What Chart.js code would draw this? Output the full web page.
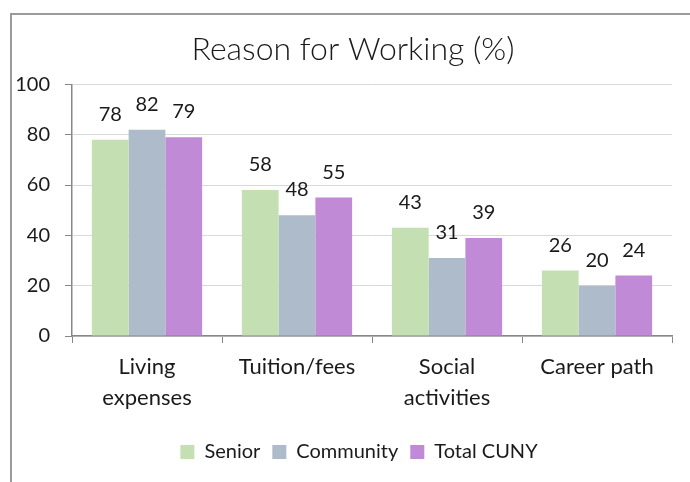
<!DOCTYPE html>
<html>
<head>
<meta charset="utf-8">
<script src="https://cdn.jsdelivr.net/npm/chart.js@4"></script>
<style>
  html, body { margin: 0; padding: 0; background: #fff; }
  #wrap { position: relative; width: 690px; height: 482px; overflow: hidden; }
  #frame { position: absolute; left: 10px; top: 13px; width: 800px; height: 600px;
           border-left: 2px solid #9a9a9a; border-top: 2px solid #9a9a9a; }
  canvas { position: absolute; left: 0; top: 0; }
</style>
</head>
<body>
<div id="wrap">
  <div id="frame"></div>
  <canvas id="chart" width="690" height="482"></canvas>
</div>
<script>
// Categories and series (percent)
const categories = [['Living', 'expenses'], 'Tuition/fees', ['Social', 'activities'], 'Career path'];
const seniorValues = [78, 58, 43, 26];
const communityValues = [82, 48, 31, 20];
const totalCunyValues = [79, 55, 39, 24];
const yTicks = [0, 20, 40, 60, 80, 100];

const textColor = '#1a1a1a';
const axisColor = '#878787';

// value labels above each bar
const barLabels = {
    id: 'barLabels',
    afterDatasetsDraw(chart) {
        const ctx = chart.ctx;
        ctx.save();
        ctx.font = '20px Lato';
        ctx.fillStyle = textColor;
        ctx.textAlign = 'center';
        ctx.textBaseline = 'alphabetic';
        chart.data.datasets.forEach((ds, i) => {
            chart.getDatasetMeta(i).data.forEach((bar, j) => {
                ctx.fillText(String(ds.data[j]), bar.x, bar.y - 19);
            });
        });
        ctx.restore();
    }
};

// nudge title and legend a little to the right, like the original
const shiftBlocks = {
    id: 'shiftBlocks',
    afterLayout(chart) {
        if (chart.titleBlock) { chart.titleBlock.left += 10; chart.titleBlock.right += 10; }
        if (chart.legend) { chart.legend.left += 16; chart.legend.right += 16; }
    }
};

new Chart(document.getElementById('chart').getContext('2d'), {
    type: 'bar',
    data: {
        labels: categories,
        datasets: [
            { label: 'Senior', data: seniorValues, backgroundColor: 'rgb(196,223,178)' },
            { label: 'Community', data: communityValues, backgroundColor: 'rgb(174,187,203)' },
            { label: 'Total CUNY', data: totalCunyValues, backgroundColor: 'rgb(192,138,214)' }
        ]
    },
    options: {
        responsive: false,
        animation: false,
        layout: { padding: { left: 14, right: 18, top: 0, bottom: 10 } },
        datasets: { bar: { categoryPercentage: 0.735, barPercentage: 1.0 } },
        plugins: {
            title: {
                display: true,
                text: 'Reason for Working (%)',
                color: textColor,
                font: { family: 'Lato', size: 32, weight: '300' },
                padding: { top: 30, bottom: 16 }
            },
            legend: {
                position: 'bottom',
                labels: {
                    color: textColor,
                    font: { family: 'Lato', size: 20 },
                    boxWidth: 14,
                    boxHeight: 14,
                    padding: 12
                }
            },
            tooltip: { enabled: false }
        },
        scales: {
            x: {
                grid: { offset: true, drawOnChartArea: false, tickLength: 7, tickColor: axisColor },
                border: { color: axisColor, width: 1.5 },
                ticks: { color: textColor, font: { family: 'Lato', size: 22, lineHeight: 1.42 }, padding: 8, maxRotation: 0 },
                afterFit(scale) { scale.height = 94; }
            },
            y: {
                min: 0,
                max: 100,
                afterBuildTicks(scale) { scale.ticks = yTicks.map(v => ({ value: v })); },
                grid: { color: '#d9d9d9', tickLength: 7, tickColor: axisColor },
                border: { color: axisColor, width: 1.5 },
                ticks: { color: textColor, font: { family: 'Lato', size: 20 }, padding: 15 },
                afterFit(scale) { scale.width = 58; }
            }
        }
    },
    plugins: [barLabels, shiftBlocks]
});
</script>
</body>
</html>
